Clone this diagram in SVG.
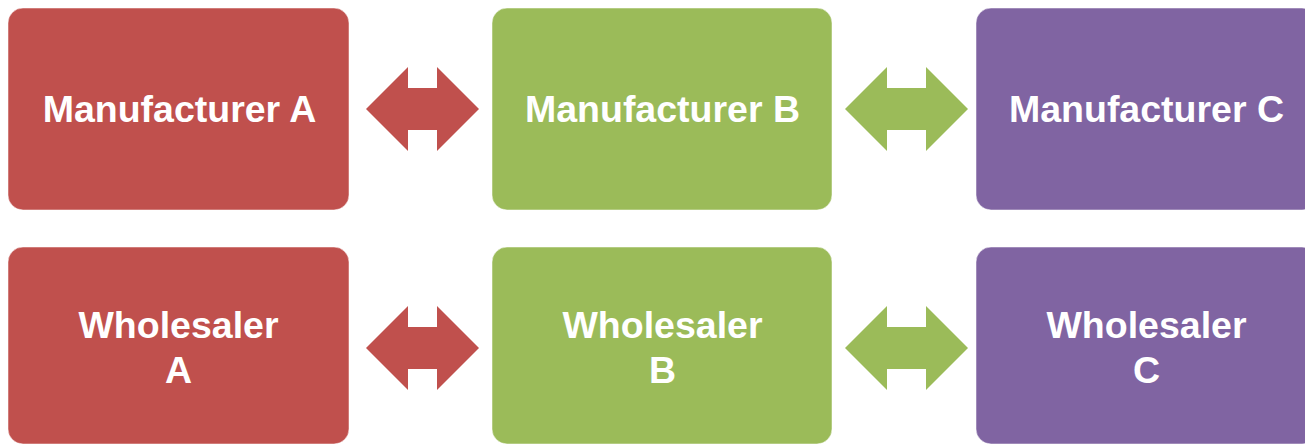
<svg xmlns="http://www.w3.org/2000/svg" width="1305" height="445" viewBox="0 0 1305 445">
<style>
.box{stroke:#ffffff;stroke-opacity:0.5;stroke-width:1}
.red{fill:#C0504D}
.green{fill:#9BBB59}
.purple{fill:#8064A2}
.lbl{font-family:"Liberation Sans",Arial,sans-serif;font-weight:bold;font-size:37.5px;fill:#ffffff;text-anchor:middle}
</style>
<rect width="1305" height="445" fill="#ffffff"/>
<g id="connectors">
<polygon class="red" points="366,109 408,67 408,88 437,88 437,67 479,109 437,151 437,130 408,130 408,151"/>
<polygon class="green" points="845,109 887,67 887,88 926,88 926,67 968,109 926,151 926,130 887,130 887,151"/>
<polygon class="red" points="366,348 408,306 408,327 437,327 437,306 479,348 437,390 437,369 408,369 408,390"/>
<polygon class="green" points="845,348 887,306 887,327 926,327 926,306 968,348 926,390 926,369 887,369 887,390"/>
</g>
<g id="manufacturerA">
<rect class="box red" x="8" y="8" width="341" height="202" rx="15"/>
<text class="lbl" x="179.5" y="122">Manufacturer A</text>
</g>
<g id="manufacturerB">
<rect class="box green" x="492" y="8" width="340" height="202" rx="15"/>
<text class="lbl" x="662.5" y="122">Manufacturer B</text>
</g>
<g id="manufacturerC">
<rect class="box purple" x="976" y="8" width="341" height="202" rx="15"/>
<text class="lbl" x="1146.5" y="122">Manufacturer C</text>
</g>
<g id="wholesalerA">
<rect class="box red" x="8" y="247" width="341" height="197" rx="15"/>
<text class="lbl" x="178.5" y="338">Wholesaler</text>
<text class="lbl" x="178.5" y="383">A</text>
</g>
<g id="wholesalerB">
<rect class="box green" x="492" y="247" width="340" height="197" rx="15"/>
<text class="lbl" x="662.5" y="338">Wholesaler</text>
<text class="lbl" x="662.5" y="383">B</text>
</g>
<g id="wholesalerC">
<rect class="box purple" x="976" y="247" width="341" height="197" rx="15"/>
<text class="lbl" x="1146.5" y="338">Wholesaler</text>
<text class="lbl" x="1146.5" y="383">C</text>
</g>
</svg>
